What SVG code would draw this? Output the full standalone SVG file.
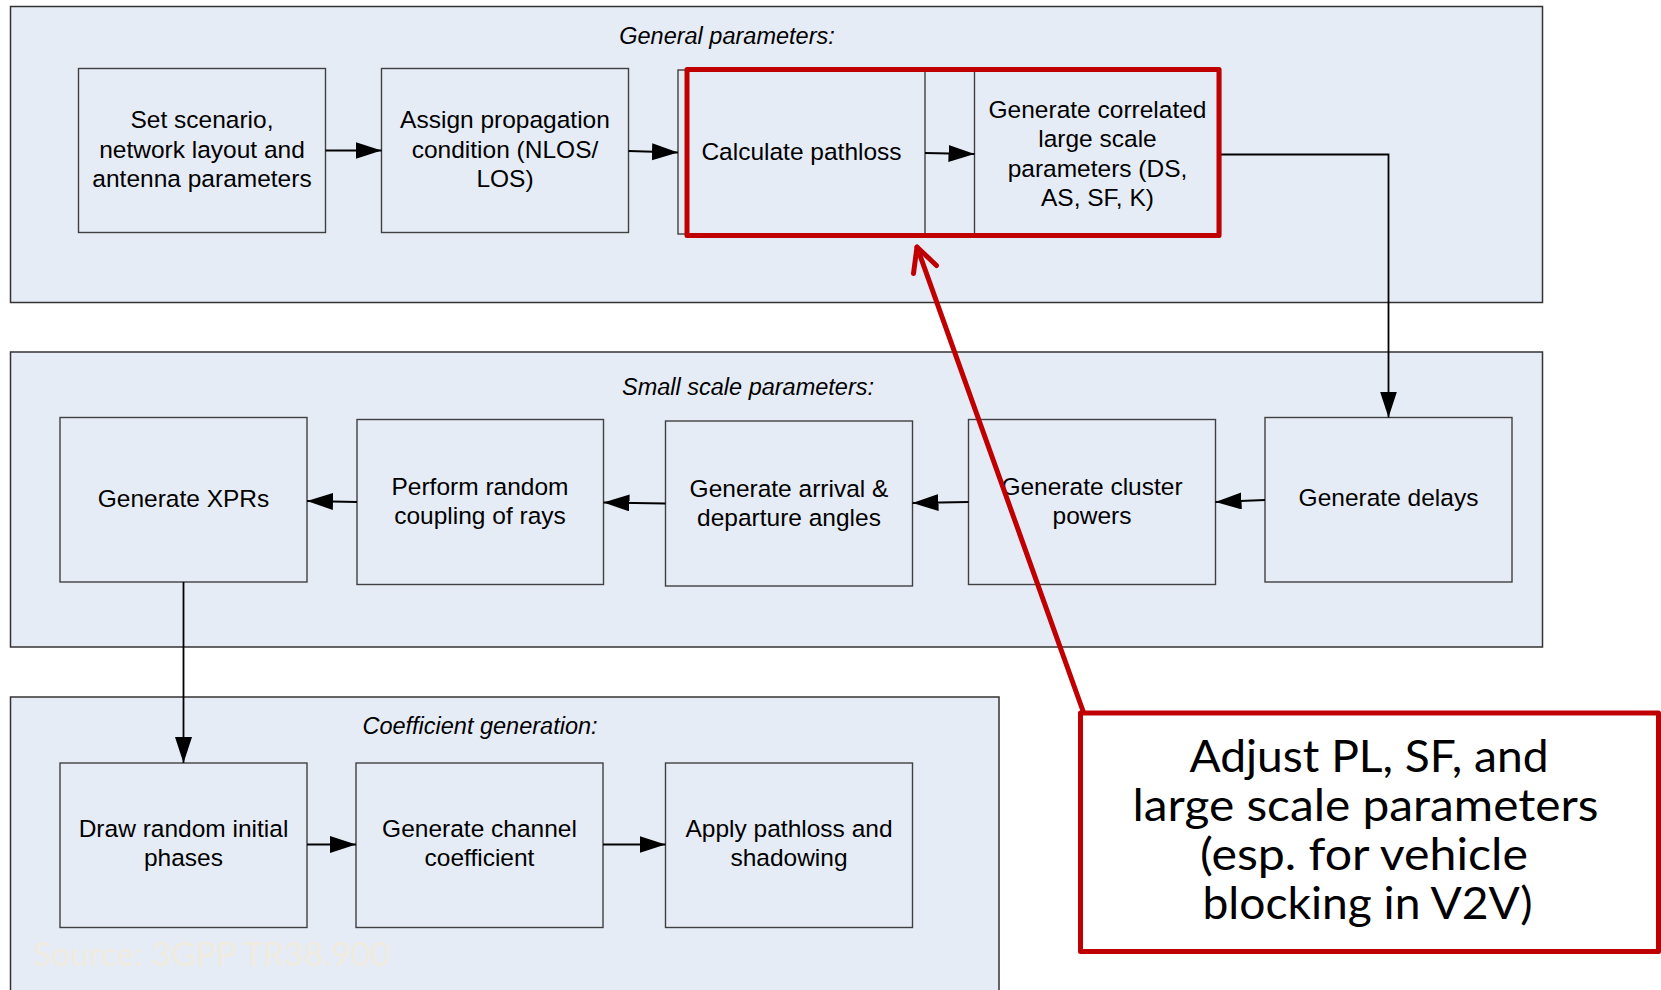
<svg xmlns="http://www.w3.org/2000/svg" width="1661" height="990" viewBox="0 0 1661 990">
  <defs>
    <style>
      .panel { fill: #E6ECF6; stroke: #333333; stroke-width: 1.5; }
      .box { fill: #E6ECF6; stroke: #404040; stroke-width: 1.4; }
      .lbl { font-family: "Liberation Sans", Arial, sans-serif; font-size: 24.5px; fill: #000; text-anchor: middle; }
      .title { font-family: "Liberation Sans", Arial, sans-serif; font-size: 23.5px; font-style: italic; fill: #000; text-anchor: middle; }
      .conn { fill: none; stroke: #000; stroke-width: 1.8; }
      .hl { fill: none; stroke: #C00000; stroke-width: 5; stroke-linejoin: round; stroke-linecap: round; }
      .note { font-family: Lato, "Open Sans", sans-serif; font-size: 45px; fill: #000; text-anchor: middle; }
      .src { font-family: Lato, "Open Sans", sans-serif; font-size: 33px; fill: #EFEBDF; }
    </style>
    <marker id="arr" markerUnits="userSpaceOnUse" markerWidth="28" markerHeight="18" refX="26" refY="8.5" orient="auto">
      <path d="M0,0 L26,8.5 L0,17 Z" fill="#000"/>
    </marker>
  </defs>

  <rect width="1661" height="990" fill="#FFFFFF"/>

  <!-- Section panels -->
  <g id="panel-general">
    <rect class="panel" x="10.5" y="6.5" width="1532" height="296"/>
    <text class="title" x="727" y="44">General parameters:</text>
  </g>
  <g id="panel-small">
    <rect class="panel" x="10.5" y="352" width="1532" height="295"/>
    <text class="title" x="748" y="395">Small scale parameters:</text>
  </g>
  <g id="panel-coeff">
    <rect class="panel" x="10.5" y="697" width="988.5" height="310"/>
    <text class="title" x="480" y="734">Coefficient generation:</text>
    <text class="src" x="33" y="966" textLength="357" lengthAdjust="spacingAndGlyphs">Source: 3GPP TR38.900</text>
  </g>

  <!-- General parameters row -->
  <g id="n-scenario">
    <rect class="box" x="78.5" y="68.5" width="247" height="164"/>
    <text class="lbl" x="202" y="128">Set scenario,</text>
    <text class="lbl" x="202" y="157.5">network layout and</text>
    <text class="lbl" x="202" y="187">antenna parameters</text>
  </g>
  <g id="n-propagation">
    <rect class="box" x="381.5" y="68.5" width="247" height="164"/>
    <text class="lbl" x="505" y="128">Assign propagation</text>
    <text class="lbl" x="505" y="157.5">condition (NLOS/</text>
    <text class="lbl" x="505" y="187">LOS)</text>
  </g>
  <g id="n-pathloss">
    <rect class="box" x="678" y="70" width="247" height="164"/>
    <text class="lbl" x="801.5" y="159.5">Calculate pathloss</text>
  </g>
  <g id="n-lsp">
    <rect class="box" x="974.5" y="70" width="246" height="164"/>
    <text class="lbl" x="1097.5" y="117.5">Generate correlated</text>
    <text class="lbl" x="1097.5" y="147">large scale</text>
    <text class="lbl" x="1097.5" y="176.5">parameters (DS,</text>
    <text class="lbl" x="1097.5" y="206">AS, SF, K)</text>
  </g>

  <!-- Small scale parameters row -->
  <g id="n-xpr">
    <rect class="box" x="60" y="417.5" width="247" height="164.5"/>
    <text class="lbl" x="183.5" y="507">Generate XPRs</text>
  </g>
  <g id="n-coupling">
    <rect class="box" x="357" y="419.5" width="246.5" height="165"/>
    <text class="lbl" x="480" y="494.5">Perform random</text>
    <text class="lbl" x="480" y="524">coupling of rays</text>
  </g>
  <g id="n-angles">
    <rect class="box" x="665.5" y="421" width="247" height="165"/>
    <text class="lbl" x="789" y="496.5">Generate arrival &amp;</text>
    <text class="lbl" x="789" y="526">departure angles</text>
  </g>
  <g id="n-powers">
    <rect class="box" x="968.5" y="419.5" width="247" height="165"/>
    <text class="lbl" x="1092" y="494.5">Generate cluster</text>
    <text class="lbl" x="1092" y="524">powers</text>
  </g>
  <g id="n-delays">
    <rect class="box" x="1265" y="417.5" width="247" height="164.5"/>
    <text class="lbl" x="1388.5" y="506">Generate delays</text>
  </g>

  <!-- Coefficient generation row -->
  <g id="n-phases">
    <rect class="box" x="60" y="763" width="247" height="164.5"/>
    <text class="lbl" x="183.5" y="837">Draw random initial</text>
    <text class="lbl" x="183.5" y="866">phases</text>
  </g>
  <g id="n-channel">
    <rect class="box" x="356" y="763" width="247" height="164.5"/>
    <text class="lbl" x="479.5" y="837">Generate channel</text>
    <text class="lbl" x="479.5" y="866">coefficient</text>
  </g>
  <g id="n-apply">
    <rect class="box" x="665.5" y="763" width="247" height="164.5"/>
    <text class="lbl" x="789" y="837">Apply pathloss and</text>
    <text class="lbl" x="789" y="866">shadowing</text>
  </g>

  <!-- Flow connectors -->
  <g id="connectors">
    <line class="conn" x1="325.5" y1="150.5" x2="381.5" y2="150.5" marker-end="url(#arr)"/>
    <line class="conn" x1="628.5" y1="151" x2="678" y2="152.5" marker-end="url(#arr)"/>
    <line class="conn" x1="925" y1="153" x2="974.5" y2="154" marker-end="url(#arr)"/>
    <polyline class="conn" points="1220.5,154.5 1388.5,154.5 1388.5,417.5" marker-end="url(#arr)"/>
    <line class="conn" x1="1265" y1="500" x2="1215.5" y2="502" marker-end="url(#arr)"/>
    <line class="conn" x1="968.5" y1="502" x2="912.5" y2="503" marker-end="url(#arr)"/>
    <line class="conn" x1="665.5" y1="503.5" x2="603.5" y2="502.5" marker-end="url(#arr)"/>
    <line class="conn" x1="357" y1="502" x2="307" y2="501" marker-end="url(#arr)"/>
    <line class="conn" x1="183.5" y1="582" x2="183.5" y2="763" marker-end="url(#arr)"/>
    <line class="conn" x1="307" y1="844.5" x2="356" y2="844.5" marker-end="url(#arr)"/>
    <line class="conn" x1="603" y1="844.5" x2="665.5" y2="844.5" marker-end="url(#arr)"/>
  </g>

  <!-- Highlight around pathloss / large scale parameter steps -->
  <g id="highlight">
    <rect class="hl" x="687" y="69.5" width="532" height="166"/>
  </g>

  <!-- Annotation callout -->
  <g id="callout">
    <rect x="1080.5" y="713" width="578" height="238.5" fill="#FFFFFF" stroke="#C00000" stroke-width="5" stroke-linejoin="round"/>
    <text class="note" x="1369" y="772" textLength="359" lengthAdjust="spacingAndGlyphs">Adjust PL, SF, and</text>
    <text class="note" x="1365.5" y="821" textLength="466" lengthAdjust="spacingAndGlyphs">large scale parameters</text>
    <text class="note" x="1364" y="870" textLength="328" lengthAdjust="spacingAndGlyphs">(esp. for vehicle</text>
    <text class="note" x="1367.5" y="919" textLength="330" lengthAdjust="spacingAndGlyphs">blocking in V2V)</text>
  </g>
  <g id="callout-pointer">
    <line class="hl" x1="1083" y1="711" x2="917" y2="247"/>
    <polyline class="hl" points="913.5,273.5 917,247 936.5,265.5"/>
  </g>
</svg>
